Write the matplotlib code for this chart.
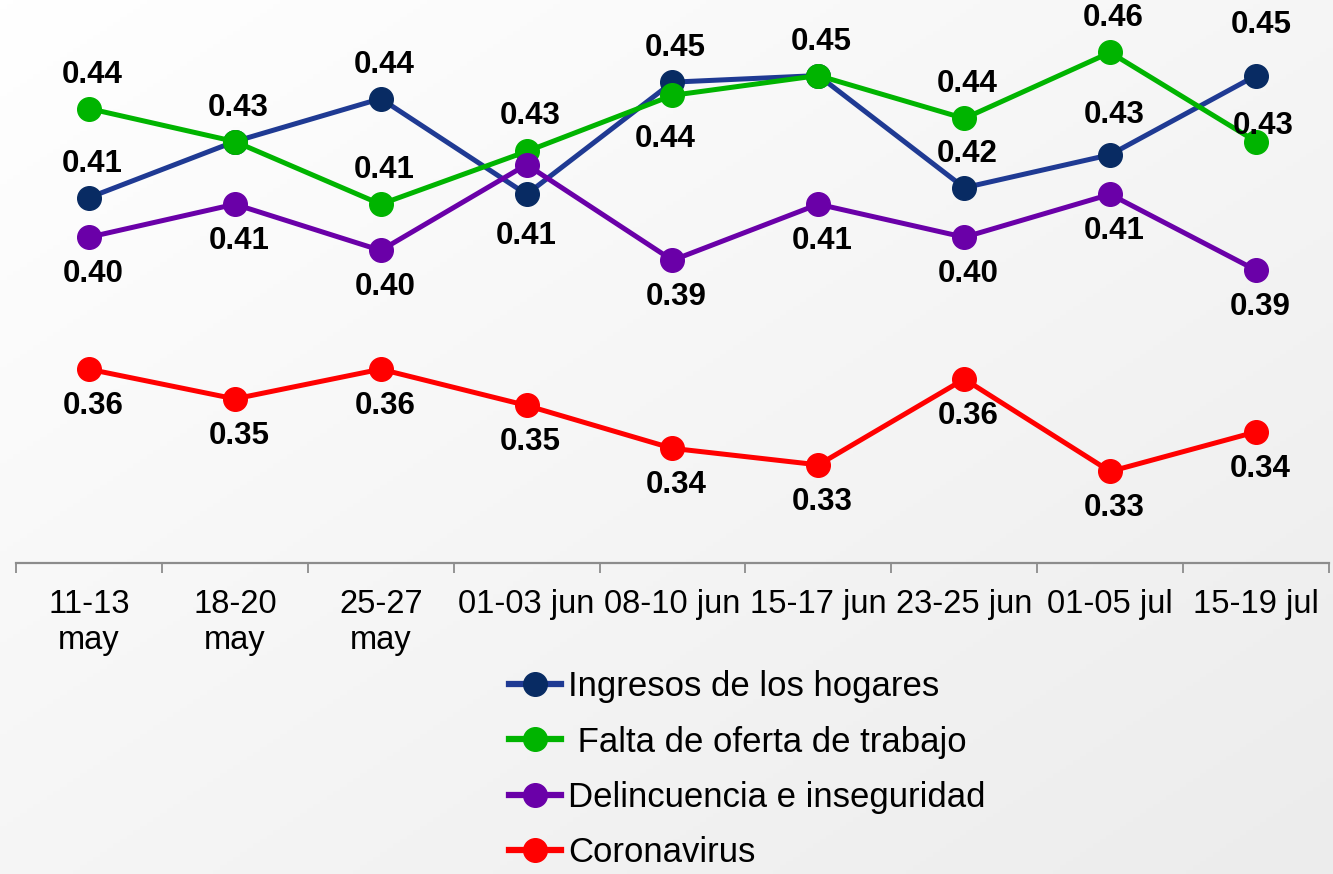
import numpy as np
import matplotlib
matplotlib.use("Agg")
import matplotlib.pyplot as plt
from matplotlib.colors import LinearSegmentedColormap

plt.rcParams["font.family"] = ["Liberation Sans", "DejaVu Sans"]

# data (labels show them rounded to 2 decimals)
periods = ["11-13\nmay", "18-20\nmay", "25-27\nmay", "01-03 jun", "08-10 jun",
           "15-17 jun", "23-25 jun", "01-05 jul", "15-19 jul"]
ingresos = [0.413, 0.430, 0.443, 0.414, 0.448, 0.450, 0.416, 0.426, 0.450]
falta_trabajo = [0.440, 0.430, 0.411, 0.427, 0.444, 0.450, 0.437, 0.457, 0.430]
delincuencia = [0.401, 0.411, 0.397, 0.423, 0.394, 0.411, 0.401, 0.414, 0.391]
coronavirus = [0.361, 0.352, 0.361, 0.350, 0.337, 0.332, 0.358, 0.330, 0.342]

# label offsets in pixels (dx, dy up); None = label hidden
UP, DOWN = (3, 34), (4, -37)
series = [
    ("Ingresos de los hogares", ingresos, "#1f3a93", "#082b63",
     [UP, None, UP, (0, -42), UP, None, UP, (4, 40), (5, 51)]),
    (" Falta de oferta de trabajo", falta_trabajo, "#00b400", "#00b400",
     [UP, UP, UP, (4, 35), (-7, -44), UP, UP, UP, (7, 16)]),
    ("Delincuencia e inseguridad", delincuencia, "#6a00a8", "#6a00a8",
     [DOWN, DOWN, DOWN, None, DOWN, DOWN, DOWN, DOWN, DOWN]),
    ("Coronavirus", coronavirus, "#ff0000", "#ff0000",
     [DOWN, DOWN, DOWN, DOWN, DOWN, DOWN, DOWN, DOWN, DOWN]),
]

fig = plt.figure(figsize=(13.33, 8.74), dpi=100)

# soft diagonal gradient background
bg = fig.add_axes([0, 0, 1, 1], zorder=-10)
gx, gy = np.meshgrid(np.linspace(0, 1, 200), np.linspace(0, 1, 200))
grad = (gx + gy) / 2
cmap = LinearSegmentedColormap.from_list("bg", ["#ffffff", "#ececec"])
bg.imshow(grad, extent=[0, 1, 0, 1], aspect="auto", cmap=cmap, origin="upper")
bg.axis("off")

ax = fig.add_axes([0.012, 0.356, 0.985, 0.644])
ax.set_facecolor("none")
x = np.arange(len(periods))

for name, vals, lc, mc, offs in series:
    ax.plot(x, vals, color=lc, linewidth=3.6, marker="o", markersize=17,
            markerfacecolor=mc, markeredgecolor=mc, label=name, clip_on=False)
    for xi, v, off in zip(x, vals, offs):
        if off is None:
            continue
        ax.annotate(f"{v:.2f}", (xi, v), xytext=off, textcoords="offset pixels",
                    ha="center", va="center", fontsize=22.5, fontweight="bold",
                    color="black", annotation_clip=False)

ax.set_xlim(-0.5, len(periods) - 0.5)
ax.set_ylim(0.3023, 0.4729)
ax.set_yticks([])
for s in ["top", "right", "left"]:
    ax.spines[s].set_visible(False)
ax.spines["bottom"].set_color("#8c8c8c")
ax.spines["bottom"].set_linewidth(1.6)

ax.set_xticks(np.arange(len(periods) + 1) - 0.5)
ax.set_xticklabels([])
ax.tick_params(axis="x", which="major", length=7, width=1.3, color="#8c8c8c")
ax.set_xticks(x, minor=True)
ax.set_xticklabels(periods, minor=True, fontsize=23.5, color="black",
                   linespacing=1.2)
ax.tick_params(axis="x", which="minor", length=0, pad=19)

leg = fig.legend(loc="upper left", bbox_to_anchor=(0.382, 0.233), frameon=False,
                 fontsize=25, handlelength=1.5, handletextpad=0.2,
                 labelspacing=0.64, borderaxespad=0, borderpad=0)
for h in leg.legend_handles:
    h.set_linewidth(4.5)

fig.savefig("out.png", dpi=100)
